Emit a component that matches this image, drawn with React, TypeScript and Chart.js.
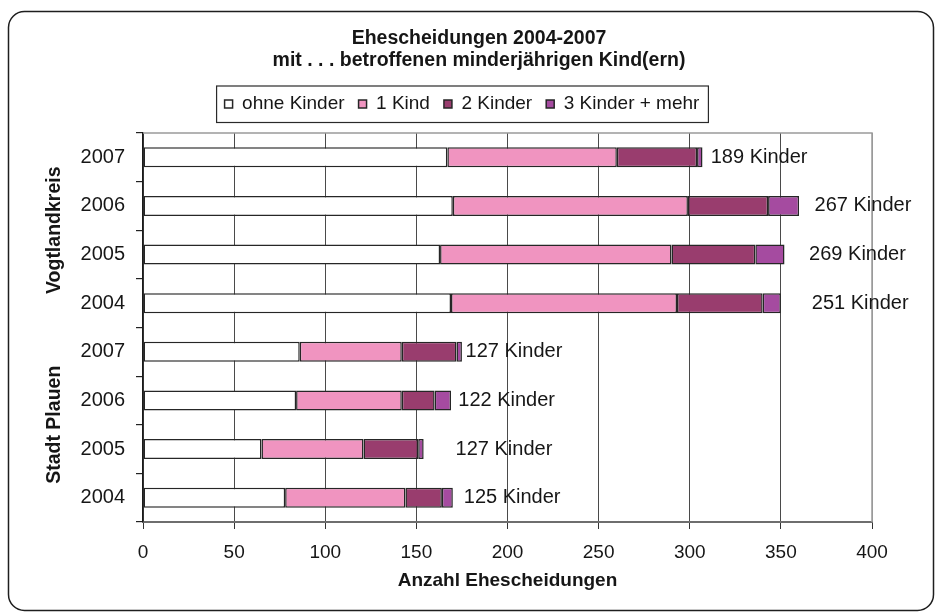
import { useEffect, useRef } from 'react';
import { Chart, registerables } from 'chart.js';

Chart.register(...registerables);

// ---- data ----
const titleLines = ['Ehescheidungen 2004-2007', 'mit . . . betroffenen minderjährigen Kind(ern)'];
const yearLabels = ['2007', '2006', '2005', '2004', '2007', '2006', '2005', '2004'];
const groupLabels = ['Vogtlandkreis', 'Stadt Plauen'];
const groupRanges = [[0, 3], [4, 7]];
const seriesNames = ['ohne Kinder', '1 Kind', '2 Kinder', '3 Kinder + mehr'];
const ohneKinder = [167, 170, 163, 169, 86, 84, 65, 78];
const einKind = [93, 129, 127, 124, 56, 58, 56, 66];
const zweiKinder = [44, 44, 46, 47, 30, 18, 30, 20];
const dreiPlus = [3, 17, 16, 10, 3, 9, 3, 6];
const kinderLabels = ['189 Kinder', '267 Kinder', '269 Kinder', '251 Kinder', '127 Kinder', '122 Kinder', '127 Kinder', '125 Kinder'];
const kinderLabelAt = [311.5, 368.5, 365.5, 367, 177, 173, 171.5, 176];
const xTicks = [0, 50, 100, 150, 200, 250, 300, 350, 400];
const xTitle = 'Anzahl Ehescheidungen';

const seriesColors = ['#FFFFFF', '#F094C0', '#993D6E', '#A54BA0'];
const FONT = '"Liberation Sans", Arial, Helvetica, sans-serif';
const TEXT = '#161616';

export default function App() {
  const ref = useRef<HTMLCanvasElement>(null);

  useEffect(() => {
    const canvas = ref.current;
    if (!canvas) return;

    const bgPlugin = {
      id: 'bgPlugin',
      beforeDraw(chart: any) {
        const ctx = chart.ctx;
        ctx.save();
        ctx.fillStyle = '#ffffff';
        ctx.fillRect(0, 0, chart.width, chart.height);
        ctx.strokeStyle = '#1e1e1e';
        ctx.lineWidth = 1.5;
        ctx.beginPath();
        (ctx as any).roundRect(8.5, 11.5, 925, 599, 16);
        ctx.stroke();
        ctx.restore();
      },
    };

    const framePlugin = {
      id: 'framePlugin',
      beforeDatasetsDraw(chart: any) {
        const { ctx, chartArea } = chart;
        ctx.save();
        ctx.strokeStyle = '#9a9a9a';
        ctx.lineWidth = 1.5;
        ctx.beginPath();
        ctx.moveTo(chartArea.left, chartArea.top);
        ctx.lineTo(chartArea.right, chartArea.top);
        ctx.lineTo(chartArea.right, chartArea.bottom);
        ctx.stroke();
        ctx.restore();
      },
    };

    const labelPlugin = {
      id: 'labelPlugin',
      afterDatasetsDraw(chart: any) {
        const { ctx } = chart;
        const xs = chart.scales.x;
        const ys = chart.scales.y;
        ctx.save();
        ctx.font = `20px ${FONT}`;
        ctx.fillStyle = TEXT;
        ctx.textAlign = 'left';
        ctx.textBaseline = 'middle';
        kinderLabels.forEach((t, i) => {
          ctx.fillText(t, xs.getPixelForValue(kinderLabelAt[i]), ys.getPixelForValue(i));
        });
        ctx.restore();
      },
    };

    const extrasPlugin = {
      id: 'extrasPlugin',
      afterDraw(chart: any) {
        const { ctx } = chart;
        const ys = chart.scales.y;
        ctx.save();
        // chart title
        ctx.font = `bold 19.5px ${FONT}`;
        ctx.fillStyle = TEXT;
        ctx.textAlign = 'center';
        ctx.textBaseline = 'middle';
        ctx.fillText(titleLines[0], 479, 39);
        ctx.fillText(titleLines[1], 479, 61);

        // group labels (rotated)
        ctx.font = `bold 19.5px ${FONT}`;
        groupLabels.forEach((g, i) => {
          const [a, b] = groupRanges[i];
          const cy = (ys.getPixelForValue(a) + ys.getPixelForValue(b)) / 2;
          ctx.save();
          ctx.translate(55, cy);
          ctx.rotate(-Math.PI / 2);
          ctx.fillText(g, 0, 0);
          ctx.restore();
        });

        // legend frame
        const lg = chart.legend;
        if (lg && lg.legendHitBoxes && lg.legendHitBoxes.length) {
          const hb = lg.legendHitBoxes;
          const first = hb[0];
          const last = hb[hb.length - 1];
          const cy = first.top + first.height / 2;
          const l = first.left - 8;
          const r = last.left + last.width + 9;
          ctx.strokeStyle = '#2a2a2a';
          ctx.lineWidth = 1.2;
          ctx.strokeRect(l, cy - 18, r - l, 36.5);
        }
        ctx.restore();
      },
    };

    const datasets = [ohneKinder, einKind, zweiKinder, dreiPlus].map((d, i) => ({
      label: seriesNames[i],
      data: d,
      backgroundColor: seriesColors[i],
      borderColor: '#262626',
      borderWidth: 1.5,
      borderSkipped: false as const,
      barPercentage: 0.41,
      categoryPercentage: 1,
    }));

    const chart = new Chart(canvas, {
      type: 'bar',
      data: { labels: yearLabels, datasets },
      plugins: [bgPlugin, framePlugin, labelPlugin, extrasPlugin],
      options: {
        indexAxis: 'y',
        responsive: false,
        animation: false,
        layout: { padding: { left: 52, right: 63, top: 80.5, bottom: 0 } },
        plugins: {
          title: { display: false },
          tooltip: { enabled: false },
          legend: {
            display: true,
            position: 'top',
            labels: {
              boxWidth: 8,
              boxHeight: 8,
              padding: 14,
              color: TEXT,
              font: { family: FONT, size: 19 },
            },
          },
        },
        scales: {
          x: {
            type: 'linear',
            stacked: true,
            min: 0,
            max: 400,
            afterBuildTicks(s: any) {
              s.ticks = xTicks.map((v) => ({ value: v }));
            },
            afterFit(s: any) {
              s.height = 90;
              s.paddingLeft = 0;
              s.paddingRight = 0;
            },
            grid: {
              color: (c: any) => (c.tick && c.tick.value === 400 ? '#9a9a9a' : '#4a4a4a'),
              lineWidth: 1,
              tickLength: 7,
              tickColor: '#333',
              drawOnChartArea: true,
            },
            border: { display: true, color: '#6e6e6e', width: 2 },
            ticks: {
              color: TEXT,
              padding: 12.6,
              maxRotation: 0,
              font: { family: FONT, size: 19, lineHeight: 1.2 },
            },
            title: {
              display: true,
              text: xTitle,
              color: TEXT,
              font: { family: FONT, size: 19, weight: 'bold', lineHeight: 1.2 },
              padding: { top: 0, bottom: 19.6 },
            },
          },
          xTop: {
            type: 'linear',
            position: 'top',
            display: true,
            grid: { display: false },
            border: { display: false },
            ticks: { display: false },
            afterFit(s: any) {
              s.height = 9.5;
              s.paddingLeft = 0;
              s.paddingRight = 0;
            },
          },
          y: {
            type: 'category',
            stacked: true,
            afterFit(s: any) {
              s.width = 91;
              s.paddingTop = 0;
              s.paddingBottom = 0;
            },
            grid: {
              offset: true,
              drawOnChartArea: false,
              drawTicks: true,
              tickLength: 7,
              color: '#222',
              lineWidth: 1.2,
            },
            border: { display: true, color: '#1a1a1a', width: 1.5 },
            ticks: {
              color: TEXT,
              padding: 11,
              autoSkip: false,
              font: { family: FONT, size: 20 },
            },
          },
        },
      } as any,
    });

    return () => chart.destroy();
  }, []);

  return (
    <canvas
      ref={ref}
      width={935}
      height={612}
      style={{ position: 'fixed', left: 0, top: 0, width: 935, height: 612, display: 'block' }}
    />
  );
}
